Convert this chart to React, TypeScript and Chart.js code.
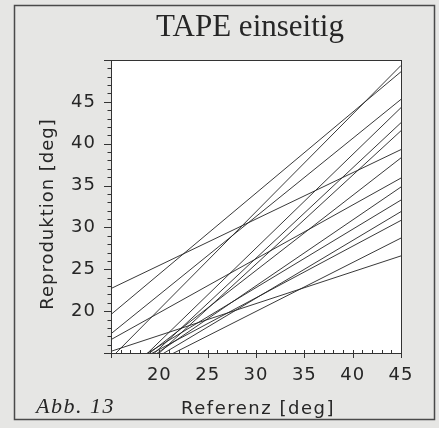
import React, { useEffect, useRef } from "react";
import { Chart, registerables } from "chart.js";

Chart.register(...registerables);

// ---- data ----
const chartTitle = "TAPE einseitig";
const xAxisTitle = "Referenz [deg]";
const yAxisTitle = "Reproduktion [deg]";
const figureLabel = "Abb. 13";

const referenzRange = [15, 45]; // x values of the two ends of each regression line
// Reproduktion value at Referenz = 15 (may lie below the axis) and at Referenz = 45
const reproAtStart = [22.7, 19.6, 17.3, 16.6, 14.4, 15.2, 10.75, 10.14, 9.69, 11.41, 11.22, 12.35, 11.21, 12.35, 11.2];
const reproAtEnd = [39.3, 48.6, 45.3, 35.9, 49.35, 26.6, 44.31, 42.51, 41.55, 38.31, 34.83, 33.27, 31.89, 30.84, 28.73];

const xTickLabels = [20, 25, 30, 35, 40, 45];
const yTickLabels = [20, 25, 30, 35, 40, 45];
const xRange = [15, 45];
const yRange = [15, 50];

const INK = "#262626";

const decor = {
  id: "decor",
  beforeDraw(chart: any) {
    const { ctx, width, height, chartArea: a } = chart;
    ctx.save();
    ctx.fillStyle = "#e6e6e4";
    ctx.fillRect(0, 0, width, height);
    ctx.fillStyle = "#ffffff";
    ctx.fillRect(a.left, a.top, a.right - a.left, a.bottom - a.top);
    ctx.strokeStyle = "#4a4a4a";
    ctx.lineWidth = 1.5;
    ctx.strokeRect(14.5, 5.5, 420, 414);
    ctx.restore();
    (ctx as any).letterSpacing = "1px";
  },
  afterDatasetsDraw(chart: any) {
    const { ctx, chartArea: a, scales } = chart;
    const xs = scales.x;
    const ys = scales.y;
    ctx.save();
    ctx.strokeStyle = "#333";
    ctx.lineWidth = 1;
    ctx.strokeRect(Math.round(a.left) + 0.5, Math.round(a.top) + 0.5, Math.round(a.right - a.left), Math.round(a.bottom - a.top));
    ctx.beginPath();
    for (let v = yRange[0]; v <= yRange[1]; v++) {
      const py = Math.round(ys.getPixelForValue(v)) + 0.5;
      const len = v % 5 === 0 ? 7 : 3.5;
      ctx.moveTo(a.left - len, py);
      ctx.lineTo(a.left, py);
    }
    for (let v = xRange[0]; v <= xRange[1]; v++) {
      const px = Math.round(xs.getPixelForValue(v)) + 0.5;
      if (v % 5 === 0) {
        ctx.moveTo(px, a.bottom + 5);
        ctx.lineTo(px, a.bottom - 3);
      } else {
        ctx.moveTo(px, a.bottom);
        ctx.lineTo(px, a.bottom - 3);
      }
    }
    ctx.stroke();
    ctx.restore();
  },
  afterDraw(chart: any) {
    const { ctx, chartArea: a } = chart;
    ctx.save();
    ctx.fillStyle = INK;
    (ctx as any).letterSpacing = "0px";
    ctx.font = '31px "Liberation Serif", serif';
    ctx.textAlign = "center";
    ctx.textBaseline = "alphabetic";
    ctx.fillText(chartTitle, 250, 36);

    (ctx as any).letterSpacing = "1.5px";
    ctx.font = '18px "DejaVu Sans", sans-serif';
    ctx.fillText(xAxisTitle, (a.left + a.right) / 2 + 2, 414);

    ctx.save();
    (ctx as any).letterSpacing = "1px";
    ctx.translate(48, 214);
    ctx.rotate(-Math.PI / 2);
    ctx.textBaseline = "middle";
    ctx.fillText(yAxisTitle, 0, 0);
    ctx.restore();

    (ctx as any).letterSpacing = "1.5px";
    ctx.font = 'italic 22px "Liberation Serif", serif';
    ctx.textAlign = "left";
    ctx.textBaseline = "alphabetic";
    ctx.fillText(figureLabel, 36, 413);
    ctx.restore();
  },
};

export default function App() {
  const ref = useRef<HTMLCanvasElement | null>(null);
  useEffect(() => {
    if (!ref.current) return;
    const datasets = reproAtStart.map((s, i) => ({
      label: `Linie ${i + 1}`,
      data: [
        { x: referenzRange[0], y: s },
        { x: referenzRange[1], y: reproAtEnd[i] },
      ],
      borderColor: "rgba(35,35,35,0.9)",
      borderWidth: 1,
      pointRadius: 0,
      fill: false,
      tension: 0,
    }));
    const tickFont = { family: '"DejaVu Sans", sans-serif', size: 18 };
    const chart = new Chart(ref.current, {
      type: "line",
      data: { datasets },
      plugins: [decor],
      options: {
        animation: false,
        responsive: false,
        devicePixelRatio: 1,
        layout: { padding: { top: 60, right: 38, bottom: 0, left: 0 } },
        plugins: { legend: { display: false }, title: { display: false }, tooltip: { enabled: false } },
        scales: {
          x: {
            type: "linear",
            min: xRange[0],
            max: xRange[1],
            border: { display: false },
            grid: { display: false, drawTicks: false },
            ticks: {
              stepSize: 5,
              padding: 12,
              color: INK,
              font: tickFont,
              maxRotation: 0,
              autoSkip: false,
              callback: (v: any) => (xTickLabels.includes(Number(v)) ? String(v) : ""),
            },
            afterFit: (s: any) => {
              s.height = 75;
            },
          },
          y: {
            type: "linear",
            min: yRange[0],
            max: yRange[1],
            border: { display: false },
            grid: { display: false, drawTicks: false },
            ticks: {
              stepSize: 5,
              padding: 15,
              color: INK,
              font: tickFont,
              autoSkip: false,
              callback: (v: any) => (yTickLabels.includes(Number(v)) ? String(v) : ""),
            },
            afterFit: (s: any) => {
              s.width = 111;
            },
          },
        },
      } as any,
    });
    return () => chart.destroy();
  }, []);
  return (
    <div style={{ position: "fixed", left: 0, top: 0, width: 439, height: 428 }}>
      <canvas ref={ref} width={439} height={428} style={{ display: "block", width: 439, height: 428 }} />
    </div>
  );
}
